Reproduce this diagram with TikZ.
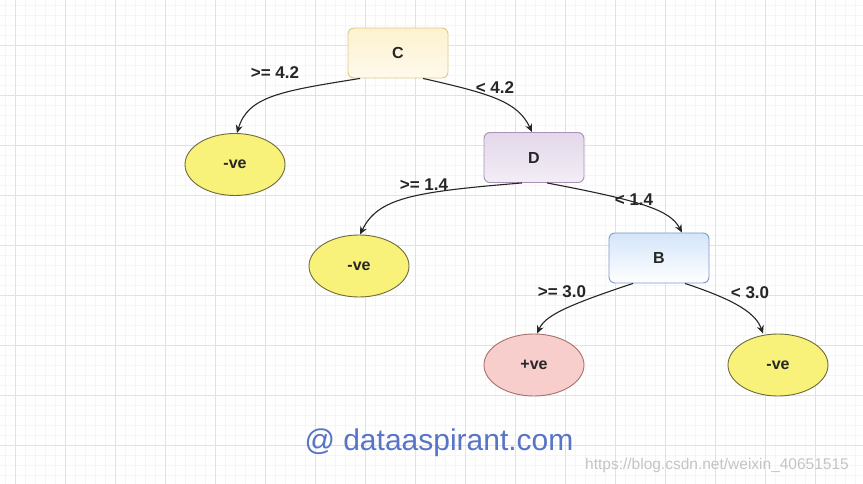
\documentclass[tikz,border=0pt]{standalone}
\usepackage{fontspec}
\setmainfont{Liberation Sans}
\usetikzlibrary{arrows.meta,shapes.geometric}
\definecolor{minorg}{HTML}{F5F5F5}
\definecolor{majorg}{HTML}{E2E2E2}
\definecolor{cfill}{HTML}{FDF1CF}
\definecolor{cdraw}{HTML}{E0C98A}
\definecolor{dfill}{HTML}{E3D8EA}
\definecolor{ddraw}{HTML}{A891B4}
\definecolor{bfill}{HTML}{D4E5FA}
\definecolor{bdraw}{HTML}{7F9AC4}
\definecolor{yfill}{HTML}{F8F27A}
\definecolor{ydraw}{HTML}{6E6A3A}
\definecolor{pfill}{HTML}{F7CECB}
\definecolor{pdraw}{HTML}{A8706C}
\definecolor{edgec}{HTML}{262626}
\definecolor{wmblue}{HTML}{5874C6}
\definecolor{wmgray}{HTML}{C4C4C4}
\begin{document}
\begin{tikzpicture}[x=1pt,y=-1pt,
  box/.style={rectangle, rounded corners=6pt, minimum width=100pt, minimum height=50pt, line width=0.9pt, font=\fontsize{16}{18}\selectfont\bfseries, text=black!85},
  leaf/.style={ellipse, minimum width=100pt, minimum height=62pt, line width=0.9pt, font=\fontsize{16}{18}\selectfont\bfseries, text=black!85},
  lab/.style={font=\fontsize{17}{19}\selectfont\bfseries, text=black!85, inner sep=0pt},
  edge/.style={draw=edgec, line width=1.1pt, -{Stealth[length=8pt,width=7pt]}}]
\useasboundingbox (0,0) rectangle (863,484);
\fill[white] (0,0) rectangle (863,484);
\foreach \x in {5,15,...,863} \draw[minorg, line width=0.5pt] (\x,0) -- (\x,484);
\foreach \y in {5,15,...,484} \draw[minorg, line width=0.5pt] (0,\y) -- (863,\y);
\foreach \x in {15,65,...,863} \draw[majorg, line width=0.8pt] (\x,0) -- (\x,484);
\foreach \y in {45,95,...,484} \draw[majorg, line width=0.8pt] (0,\y) -- (863,\y);

\node[box, draw=cdraw, top color=cfill, bottom color=cfill!40!white] (C) at (398,53) {C};
\node[box, draw=ddraw, top color=dfill, bottom color=dfill!45!white] (D) at (534,157.5) {D};
\node[box, draw=bdraw, top color=bfill, bottom color=white] (B) at (659,258) {B};
\node[leaf, draw=ydraw, fill=yfill] (n1) at (235,164.5) {-ve};
\node[leaf, draw=ydraw, fill=yfill] (n2) at (359,266) {-ve};
\node[leaf, draw=pdraw, fill=pfill] (p) at (534,365) {+ve};
\node[leaf, draw=ydraw, fill=yfill] (n3) at (778,365) {-ve};

\draw[edge] ([xshift=-38pt]C.south) .. controls (282,91) and (248,96) .. ([xshift=2pt]n1.north);
\draw[edge] ([xshift=25pt]C.south) .. controls (492,94) and (518,102) .. ([xshift=-2pt]D.north);
\draw[edge] ([xshift=-12pt]D.south) .. controls (412,192) and (378,198) .. ([xshift=1pt]n2.north);
\draw[edge] ([xshift=13pt]D.south) .. controls (642,201) and (670,210) .. ([xshift=23pt]B.north);
\draw[edge] ([xshift=-26pt]B.south) .. controls (565,306) and (545,316) .. ([xshift=3pt]p.north);
\draw[edge] ([xshift=26pt]B.south) .. controls (738,301) and (756,314) .. ([xshift=-15pt]n3.north);

\node[lab] (l1) at (275,73) {>= 4.2};
\node[lab] (l2) at (495,88) {< 4.2};
\node[lab] (l3) at (424,185) {>= 1.4};
\node[lab] (l4) at (634,200) {< 1.4};
\node[lab] (l5) at (562,292) {>= 3.0};
\node[lab] (l6) at (750,293) {< 3.0};

\node[font=\fontsize{30}{33}\selectfont, text=wmblue, inner sep=0pt] (wm) at (439,443) {@ dataaspirant.com};
\node[font=\fontsize{15.5}{17}\selectfont, text=wmgray, inner sep=0pt] (wm2) at (717,465) {https://blog.csdn.net/weixin\_40651515};
\end{tikzpicture}
\end{document}
